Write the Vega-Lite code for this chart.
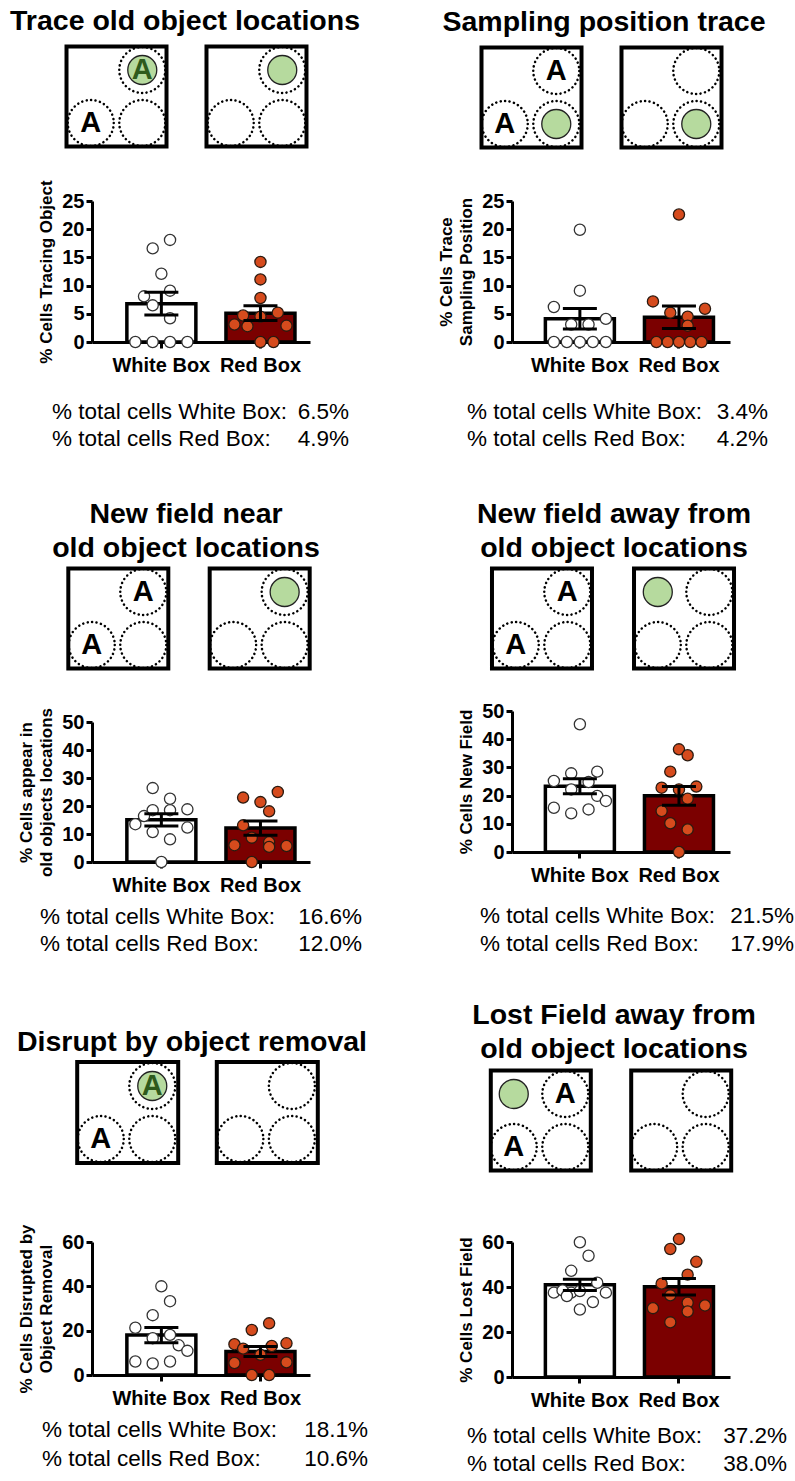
{
"$schema": "https://vega.github.io/schema/vega-lite/v6.json",
"background": "white",
"padding": {"left": 9, "top": 7, "right": 0, "bottom": 0},
"datasets": {
"points": [
{"p":1,"group":"White Box","value":16.6,"slot":-1},{"p":1,"group":"White Box","value":18.1,"slot":1},{"p":1,"group":"White Box","value":12.1,"slot":0},{"p":1,"group":"White Box","value":9.1,"slot":1},{"p":1,"group":"White Box","value":8.1,"slot":-2},{"p":1,"group":"White Box","value":6.5,"slot":-1},{"p":1,"group":"White Box","value":4.2,"slot":1},{"p":1,"group":"White Box","value":0,"slot":-3},{"p":1,"group":"White Box","value":0,"slot":-1},{"p":1,"group":"White Box","value":0,"slot":1},{"p":1,"group":"White Box","value":0,"slot":3},
{"p":1,"group":"Red Box","value":14.2,"slot":0},{"p":1,"group":"Red Box","value":11.1,"slot":0},{"p":1,"group":"Red Box","value":7.8,"slot":0},{"p":1,"group":"Red Box","value":4.7,"slot":-2},{"p":1,"group":"Red Box","value":4.5,"slot":0},{"p":1,"group":"Red Box","value":5.2,"slot":2},{"p":1,"group":"Red Box","value":3.1,"slot":-3},{"p":1,"group":"Red Box","value":2.8,"slot":-1.5},{"p":1,"group":"Red Box","value":2.9,"slot":3},{"p":1,"group":"Red Box","value":0,"slot":0},{"p":1,"group":"Red Box","value":0,"slot":1.5},
{"p":2,"group":"White Box","value":19.9,"slot":0},{"p":2,"group":"White Box","value":9.1,"slot":0},{"p":2,"group":"White Box","value":6.2,"slot":-3},{"p":2,"group":"White Box","value":4.1,"slot":3},{"p":2,"group":"White Box","value":3.1,"slot":-1},{"p":2,"group":"White Box","value":3.1,"slot":1},{"p":2,"group":"White Box","value":0,"slot":-3},{"p":2,"group":"White Box","value":0,"slot":-1.5},{"p":2,"group":"White Box","value":0,"slot":0},{"p":2,"group":"White Box","value":0,"slot":1.5},{"p":2,"group":"White Box","value":0,"slot":3},
{"p":2,"group":"Red Box","value":22.6,"slot":0},{"p":2,"group":"Red Box","value":7.2,"slot":-3},{"p":2,"group":"Red Box","value":5.9,"slot":3},{"p":2,"group":"Red Box","value":5.2,"slot":-1},{"p":2,"group":"Red Box","value":4.5,"slot":1},{"p":2,"group":"Red Box","value":2.9,"slot":1},{"p":2,"group":"Red Box","value":0,"slot":-2.6},{"p":2,"group":"Red Box","value":0,"slot":-1.3},{"p":2,"group":"Red Box","value":0,"slot":0},{"p":2,"group":"Red Box","value":0,"slot":1.3},{"p":2,"group":"Red Box","value":0,"slot":2.6},
{"p":3,"group":"White Box","value":26.4,"slot":-1},{"p":3,"group":"White Box","value":22.6,"slot":1},{"p":3,"group":"White Box","value":18.8,"slot":3},{"p":3,"group":"White Box","value":18.5,"slot":-1},{"p":3,"group":"White Box","value":18.5,"slot":1},{"p":3,"group":"White Box","value":16.4,"slot":-2},{"p":3,"group":"White Box","value":13.5,"slot":-3},{"p":3,"group":"White Box","value":12.3,"slot":3},{"p":3,"group":"White Box","value":10.7,"slot":-1},{"p":3,"group":"White Box","value":8.1,"slot":1},{"p":3,"group":"White Box","value":0,"slot":0},
{"p":3,"group":"Red Box","value":25.0,"slot":2},{"p":3,"group":"Red Box","value":23.0,"slot":-2},{"p":3,"group":"Red Box","value":21.4,"slot":0},{"p":3,"group":"Red Box","value":18.1,"slot":1},{"p":3,"group":"Red Box","value":13.1,"slot":-2},{"p":3,"group":"Red Box","value":8.7,"slot":-1},{"p":3,"group":"Red Box","value":7.1,"slot":1},{"p":3,"group":"Red Box","value":6.0,"slot":-3},{"p":3,"group":"Red Box","value":5.4,"slot":1},{"p":3,"group":"Red Box","value":5.7,"slot":3},{"p":3,"group":"Red Box","value":0,"slot":-1},
{"p":4,"group":"White Box","value":45.3,"slot":0},{"p":4,"group":"White Box","value":27.9,"slot":-1},{"p":4,"group":"White Box","value":28.5,"slot":2},{"p":4,"group":"White Box","value":25.2,"slot":-3},{"p":4,"group":"White Box","value":24.8,"slot":1},{"p":4,"group":"White Box","value":22.2,"slot":-1},{"p":4,"group":"White Box","value":19.9,"slot":2},{"p":4,"group":"White Box","value":18.1,"slot":3},{"p":4,"group":"White Box","value":15.7,"slot":-3},{"p":4,"group":"White Box","value":15.1,"slot":1},{"p":4,"group":"White Box","value":13.7,"slot":-1},
{"p":4,"group":"Red Box","value":36.4,"slot":0},{"p":4,"group":"Red Box","value":34.3,"slot":1},{"p":4,"group":"Red Box","value":28.5,"slot":-1},{"p":4,"group":"Red Box","value":22.8,"slot":-2},{"p":4,"group":"Red Box","value":22.2,"slot":0},{"p":4,"group":"Red Box","value":23.2,"slot":2},{"p":4,"group":"Red Box","value":18.9,"slot":1},{"p":4,"group":"Red Box","value":14.5,"slot":-2},{"p":4,"group":"Red Box","value":10.2,"slot":-1},{"p":4,"group":"Red Box","value":8.0,"slot":1},{"p":4,"group":"Red Box","value":0,"slot":0},
{"p":5,"group":"White Box","value":40.0,"slot":0},{"p":5,"group":"White Box","value":33.3,"slot":1},{"p":5,"group":"White Box","value":27.0,"slot":-1},{"p":5,"group":"White Box","value":21.3,"slot":-3},{"p":5,"group":"White Box","value":16.6,"slot":-1},{"p":5,"group":"White Box","value":18.1,"slot":1},{"p":5,"group":"White Box","value":13.4,"slot":2},{"p":5,"group":"White Box","value":10.9,"slot":3},{"p":5,"group":"White Box","value":6.1,"slot":-3},{"p":5,"group":"White Box","value":5.2,"slot":-1},{"p":5,"group":"White Box","value":6.1,"slot":1},
{"p":5,"group":"Red Box","value":23.3,"slot":1},{"p":5,"group":"Red Box","value":20.3,"slot":-1},{"p":5,"group":"Red Box","value":13.9,"slot":-3},{"p":5,"group":"Red Box","value":11.9,"slot":-2},{"p":5,"group":"Red Box","value":13.1,"slot":1.3},{"p":5,"group":"Red Box","value":14.3,"slot":3},{"p":5,"group":"Red Box","value":9.1,"slot":0},{"p":5,"group":"Red Box","value":5.4,"slot":-3},{"p":5,"group":"Red Box","value":5.7,"slot":3},{"p":5,"group":"Red Box","value":0,"slot":-1},{"p":5,"group":"Red Box","value":0,"slot":1},
{"p":6,"group":"White Box","value":59.9,"slot":0},{"p":6,"group":"White Box","value":53.9,"slot":1},{"p":6,"group":"White Box","value":47.2,"slot":-1},{"p":6,"group":"White Box","value":41.9,"slot":2},{"p":6,"group":"White Box","value":37.5,"slot":-3},{"p":6,"group":"White Box","value":37.5,"slot":-1},{"p":6,"group":"White Box","value":38.2,"slot":0},{"p":6,"group":"White Box","value":38.5,"slot":-2},{"p":6,"group":"White Box","value":37.5,"slot":3},{"p":6,"group":"White Box","value":36.0,"slot":-1.5},{"p":6,"group":"White Box","value":33.3,"slot":1.5},{"p":6,"group":"White Box","value":30.0,"slot":0},
{"p":6,"group":"Red Box","value":61.3,"slot":0},{"p":6,"group":"Red Box","value":56.9,"slot":-1},{"p":6,"group":"Red Box","value":51.2,"slot":2},{"p":6,"group":"Red Box","value":45.5,"slot":1},{"p":6,"group":"Red Box","value":41.5,"slot":-2},{"p":6,"group":"Red Box","value":36.3,"slot":-1},{"p":6,"group":"Red Box","value":33.0,"slot":1},{"p":6,"group":"Red Box","value":31.8,"slot":3},{"p":6,"group":"Red Box","value":30.6,"slot":-3},{"p":6,"group":"Red Box","value":29.1,"slot":1},{"p":6,"group":"Red Box","value":24.3,"slot":-1}
],
"schem": [
{"p":1,"box":"1","kind":"box"},{"p":1,"box":"1","kind":"zone","col":"R","row":"T"},{"p":1,"box":"1","kind":"zone","col":"L","row":"B"},{"p":1,"box":"1","kind":"zone","col":"R","row":"B"},{"p":1,"box":"1","kind":"green","col":"R","row":"T"},{"p":1,"box":"1","kind":"letter_on_green","col":"R","row":"T","label":"A"},{"p":1,"box":"1","kind":"letter","col":"L","row":"B","label":"A"},
{"p":1,"box":"2","kind":"box"},{"p":1,"box":"2","kind":"zone","col":"R","row":"T"},{"p":1,"box":"2","kind":"zone","col":"L","row":"B"},{"p":1,"box":"2","kind":"zone","col":"R","row":"B"},{"p":1,"box":"2","kind":"green","col":"R","row":"T"},
{"p":2,"box":"1","kind":"box"},{"p":2,"box":"1","kind":"zone","col":"R","row":"T"},{"p":2,"box":"1","kind":"zone","col":"L","row":"B"},{"p":2,"box":"1","kind":"zone","col":"R","row":"B"},{"p":2,"box":"1","kind":"letter","col":"R","row":"T","label":"A"},{"p":2,"box":"1","kind":"letter","col":"L","row":"B","label":"A"},{"p":2,"box":"1","kind":"green","col":"R","row":"B"},
{"p":2,"box":"2","kind":"box"},{"p":2,"box":"2","kind":"zone","col":"R","row":"T"},{"p":2,"box":"2","kind":"zone","col":"L","row":"B"},{"p":2,"box":"2","kind":"zone","col":"R","row":"B"},{"p":2,"box":"2","kind":"green","col":"R","row":"B"},
{"p":3,"box":"1","kind":"box"},{"p":3,"box":"1","kind":"zone","col":"R","row":"T"},{"p":3,"box":"1","kind":"zone","col":"L","row":"B"},{"p":3,"box":"1","kind":"zone","col":"R","row":"B"},{"p":3,"box":"1","kind":"letter","col":"R","row":"T","label":"A"},{"p":3,"box":"1","kind":"letter","col":"L","row":"B","label":"A"},
{"p":3,"box":"2","kind":"box"},{"p":3,"box":"2","kind":"zone","col":"R","row":"T"},{"p":3,"box":"2","kind":"zone","col":"L","row":"B"},{"p":3,"box":"2","kind":"zone","col":"R","row":"B"},{"p":3,"box":"2","kind":"green","col":"R","row":"T"},
{"p":4,"box":"1","kind":"box"},{"p":4,"box":"1","kind":"zone","col":"R","row":"T"},{"p":4,"box":"1","kind":"zone","col":"L","row":"B"},{"p":4,"box":"1","kind":"zone","col":"R","row":"B"},{"p":4,"box":"1","kind":"letter","col":"R","row":"T","label":"A"},{"p":4,"box":"1","kind":"letter","col":"L","row":"B","label":"A"},
{"p":4,"box":"2","kind":"box"},{"p":4,"box":"2","kind":"zone","col":"R","row":"T"},{"p":4,"box":"2","kind":"zone","col":"L","row":"B"},{"p":4,"box":"2","kind":"zone","col":"R","row":"B"},{"p":4,"box":"2","kind":"green","col":"L","row":"T"},
{"p":5,"box":"1","kind":"box"},{"p":5,"box":"1","kind":"zone","col":"R","row":"T"},{"p":5,"box":"1","kind":"zone","col":"L","row":"B"},{"p":5,"box":"1","kind":"zone","col":"R","row":"B"},{"p":5,"box":"1","kind":"green","col":"R","row":"T"},{"p":5,"box":"1","kind":"letter_on_green","col":"R","row":"T","label":"A"},{"p":5,"box":"1","kind":"letter","col":"L","row":"B","label":"A"},
{"p":5,"box":"2","kind":"box"},{"p":5,"box":"2","kind":"zone","col":"R","row":"T"},{"p":5,"box":"2","kind":"zone","col":"L","row":"B"},{"p":5,"box":"2","kind":"zone","col":"R","row":"B"},
{"p":6,"box":"1","kind":"box"},{"p":6,"box":"1","kind":"zone","col":"R","row":"T"},{"p":6,"box":"1","kind":"zone","col":"L","row":"B"},{"p":6,"box":"1","kind":"zone","col":"R","row":"B"},{"p":6,"box":"1","kind":"green","col":"L","row":"T"},{"p":6,"box":"1","kind":"letter","col":"R","row":"T","label":"A"},{"p":6,"box":"1","kind":"letter","col":"L","row":"B","label":"A"},
{"p":6,"box":"2","kind":"box"},{"p":6,"box":"2","kind":"zone","col":"R","row":"T"},{"p":6,"box":"2","kind":"zone","col":"L","row":"B"},{"p":6,"box":"2","kind":"zone","col":"R","row":"B"}
],
"texts": [
{"p":1,"line":1,"label":"% total cells White Box:","pct":"6.5%"},{"p":1,"line":2,"label":"% total cells Red Box:","pct":"4.9%"},
{"p":2,"line":1,"label":"% total cells White Box:","pct":"3.4%"},{"p":2,"line":2,"label":"% total cells Red Box:","pct":"4.2%"},
{"p":3,"line":1,"label":"% total cells White Box:","pct":"16.6%"},{"p":3,"line":2,"label":"% total cells Red Box:","pct":"12.0%"},
{"p":4,"line":1,"label":"% total cells White Box:","pct":"21.5%"},{"p":4,"line":2,"label":"% total cells Red Box:","pct":"17.9%"},
{"p":5,"line":1,"label":"% total cells White Box:","pct":"18.1%"},{"p":5,"line":2,"label":"% total cells Red Box:","pct":"10.6%"},
{"p":6,"line":1,"label":"% total cells White Box:","pct":"37.2%"},{"p":6,"line":2,"label":"% total cells Red Box:","pct":"38.0%"}
]
},
"spacing": 69,
"hconcat": [
{"bounds": "flush", "spacing": 0, "vconcat": [
  {"width": 218, "height": 157,
   "title": {"text": "Trace old object locations", "offset": -26, "dx": -16, "baseline": "bottom", "lineHeight": 34},
   "data": {"name": "schem"}, "transform": [{"filter": "datum.p == 1"}],
   "encoding": {"x": {"field": "box", "type": "nominal", "scale": {"type": "band", "domain": ["1","2"], "range": [-27, 216], "paddingInner": 0.264, "paddingOuter": 0}, "axis": null}},
   "layer": [
    {"transform": [{"filter": "datum.kind == 'box'"}], "mark": {"type": "point", "shape": "square", "size": 10000, "filled": true, "fill": "white", "stroke": "black", "strokeWidth": 4, "opacity": 1}, "encoding": {"y": {"datum": "M", "type": "nominal", "scale": {"type": "point", "domain": ["T","M","B"], "range": [26, 79], "padding": 0}, "axis": null}}},
    {"transform": [{"filter": "datum.kind == 'zone'"}], "mark": {"type": "point", "shape": "circle", "size": 2116, "filled": false, "stroke": "black", "strokeWidth": 2.5, "strokeDash": [0.1, 4.4], "strokeCap": "round", "opacity": 1},
     "encoding": {"xOffset": {"field": "col", "type": "nominal", "scale": {"type": "point", "domain": ["L","R"], "padding": 0.5}}, "y": {"field": "row", "type": "nominal", "axis": null}}},
    {"transform": [{"filter": "datum.kind == 'green'"}], "mark": {"type": "point", "shape": "circle", "size": 841, "filled": true, "fill": "#B6DA9E", "stroke": "#222222", "strokeWidth": 1.3, "opacity": 1},
     "encoding": {"xOffset": {"field": "col", "type": "nominal"}, "y": {"field": "row", "type": "nominal", "axis": null}}},
    {"transform": [{"filter": "datum.kind == 'letter' || datum.kind == 'letter_on_green'"}], "mark": {"type": "text", "fontSize": 29, "fontWeight": "bold", "baseline": "middle", "align": "center"},
     "encoding": {"xOffset": {"field": "col", "type": "nominal"}, "y": {"field": "row", "type": "nominal", "axis": null}, "text": {"field": "label"}, "color": {"condition": {"test": "datum.kind == 'letter_on_green'", "value": "#2E5A1C"}, "value": "black"}}}
   ]},
   {"width": 218, "height": 141,
    "data": {"name": "points"}, "transform": [{"filter": "datum.p == 1"}],
    "resolve": {"scale": {"xOffset": "independent"}},
    "encoding": {"x": {"field": "group", "type": "nominal", "sort": ["White Box","Red Box"], "scale": {"type": "band", "domain": ["White Box","Red Box"], "paddingInner": 0.3, "paddingOuter": 0.25, "align": 0.7}, "axis": {"title": null, "labelAngle": 0, "labelPadding": 7, "tickSize": 6}}},
    "layer": [
     {"mark": {"type": "bar", "stroke": "black", "strokeWidth": 3.5, "width": 69}, "encoding": {"y": {"aggregate": "mean", "field": "value", "type": "quantitative", "title": "% Cells Tracing Object", "scale": {"domain": [0, 25], "nice": false}, "axis": {"values": [0,5,10,15,20,25], "titlePadding": 6, "tickSize": 6}}, "fill": {"condition": {"test": "datum.group === 'Red Box'", "value": "#7B0000"}, "value": "white"}}},
     {"mark": {"type": "point", "filled": true, "size": 125, "opacity": 1, "strokeWidth": 1.3}, "encoding": {"y": {"field": "value", "type": "quantitative", "title": "% Cells Tracing Object", "scale": {"domain": [0, 25], "nice": false}, "axis": {"values": [0,5,10,15,20,25], "titlePadding": 6, "tickSize": 6}}, "xOffset": {"field": "slot", "type": "quantitative", "scale": {"domain": [-4, 4]}}, "fill": {"condition": {"test": "datum.group === 'Red Box'", "value": "#D64B1D"}, "value": "white"}, "stroke": {"condition": {"test": "datum.group === 'Red Box'", "value": "#2A1A10"}, "value": "#333333"}}},
     {"mark": {"type": "errorbar", "extent": "stderr", "ticks": {"size": 34, "color": "black", "opacity": 1}, "rule": {"color": "black", "opacity": 1}, "thickness": 3, "color": "black"}, "encoding": {"y": {"field": "value", "type": "quantitative", "title": "% Cells Tracing Object", "scale": {"domain": [0, 25], "nice": false}, "axis": {"values": [0,5,10,15,20,25], "titlePadding": 6, "tickSize": 6}}}}
    ]},
   {"width": 218, "height": 224,
    "data": {"name": "texts"}, "transform": [{"filter": "datum.p == 1"}],
    "encoding": {"y": {"field": "line", "type": "ordinal", "scale": {"type": "point", "domain": [1,2], "range": [70, 97], "padding": 0}, "axis": null}},
    "layer": [
     {"mark": {"type": "text", "align": "left", "baseline": "middle", "fontSize": 22.5, "color": "black"}, "encoding": {"x": {"datum": "start", "type": "nominal", "scale": {"type": "point", "domain": ["start","end"], "range": [-40, 257], "padding": 0}, "axis": null}, "text": {"field": "label"}}},
     {"mark": {"type": "text", "align": "right", "baseline": "middle", "fontSize": 22.5, "color": "black"}, "encoding": {"x": {"datum": "end", "type": "nominal", "axis": null}, "text": {"field": "pct"}}}
    ]},
  {"width": 218, "height": 156,
   "title": {"text": ["New field near", "old object locations"], "offset": -31, "dx": -15, "baseline": "bottom", "lineHeight": 34},
   "data": {"name": "schem"}, "transform": [{"filter": "datum.p == 3"}],
   "encoding": {"x": {"field": "box", "type": "nominal", "scale": {"type": "band", "domain": ["1","2"], "range": [-26, 220], "paddingInner": 0.26, "paddingOuter": 0}, "axis": null}},
   "layer": [
    {"transform": [{"filter": "datum.kind == 'box'"}], "mark": {"type": "point", "shape": "square", "size": 10000, "filled": true, "fill": "white", "stroke": "black", "strokeWidth": 4, "opacity": 1}, "encoding": {"y": {"datum": "M", "type": "nominal", "scale": {"type": "point", "domain": ["T","M","B"], "range": [26, 79], "padding": 0}, "axis": null}}},
    {"transform": [{"filter": "datum.kind == 'zone'"}], "mark": {"type": "point", "shape": "circle", "size": 2116, "filled": false, "stroke": "black", "strokeWidth": 2.5, "strokeDash": [0.1, 4.4], "strokeCap": "round", "opacity": 1},
     "encoding": {"xOffset": {"field": "col", "type": "nominal", "scale": {"type": "point", "domain": ["L","R"], "padding": 0.5}}, "y": {"field": "row", "type": "nominal", "axis": null}}},
    {"transform": [{"filter": "datum.kind == 'green'"}], "mark": {"type": "point", "shape": "circle", "size": 841, "filled": true, "fill": "#B6DA9E", "stroke": "#222222", "strokeWidth": 1.3, "opacity": 1},
     "encoding": {"xOffset": {"field": "col", "type": "nominal"}, "y": {"field": "row", "type": "nominal", "axis": null}}},
    {"transform": [{"filter": "datum.kind == 'letter' || datum.kind == 'letter_on_green'"}], "mark": {"type": "text", "fontSize": 29, "fontWeight": "bold", "baseline": "middle", "align": "center"},
     "encoding": {"xOffset": {"field": "col", "type": "nominal"}, "y": {"field": "row", "type": "nominal", "axis": null}, "text": {"field": "label"}, "color": {"condition": {"test": "datum.kind == 'letter_on_green'", "value": "#2E5A1C"}, "value": "black"}}}
   ]},
   {"width": 218, "height": 140,
    "data": {"name": "points"}, "transform": [{"filter": "datum.p == 3"}],
    "resolve": {"scale": {"xOffset": "independent"}},
    "encoding": {"x": {"field": "group", "type": "nominal", "sort": ["White Box","Red Box"], "scale": {"type": "band", "domain": ["White Box","Red Box"], "paddingInner": 0.3, "paddingOuter": 0.25, "align": 0.7}, "axis": {"title": null, "labelAngle": 0, "labelPadding": 7, "tickSize": 6}}},
    "layer": [
     {"mark": {"type": "bar", "stroke": "black", "strokeWidth": 3.5, "width": 69}, "encoding": {"y": {"aggregate": "mean", "field": "value", "type": "quantitative", "title": ["% Cells appear in", "old objects locations"], "scale": {"domain": [0, 50], "nice": false}, "axis": {"values": [0,10,20,30,40,50], "titlePadding": 6, "tickSize": 6, "titleLineHeight": 20}}, "fill": {"condition": {"test": "datum.group === 'Red Box'", "value": "#7B0000"}, "value": "white"}}},
     {"mark": {"type": "point", "filled": true, "size": 125, "opacity": 1, "strokeWidth": 1.3}, "encoding": {"y": {"field": "value", "type": "quantitative", "title": ["% Cells appear in", "old objects locations"], "scale": {"domain": [0, 50], "nice": false}, "axis": {"values": [0,10,20,30,40,50], "titlePadding": 6, "tickSize": 6, "titleLineHeight": 20}}, "xOffset": {"field": "slot", "type": "quantitative", "scale": {"domain": [-4, 4]}}, "fill": {"condition": {"test": "datum.group === 'Red Box'", "value": "#D64B1D"}, "value": "white"}, "stroke": {"condition": {"test": "datum.group === 'Red Box'", "value": "#2A1A10"}, "value": "#333333"}}},
     {"mark": {"type": "errorbar", "extent": "stderr", "ticks": {"size": 34, "color": "black", "opacity": 1}, "rule": {"color": "black", "opacity": 1}, "thickness": 3, "color": "black"}, "encoding": {"y": {"field": "value", "type": "quantitative", "title": ["% Cells appear in", "old objects locations"], "scale": {"domain": [0, 50], "nice": false}, "axis": {"values": [0,10,20,30,40,50], "titlePadding": 6, "tickSize": 6, "titleLineHeight": 20}}}}
    ]},
   {"width": 218, "height": 197,
    "data": {"name": "texts"}, "transform": [{"filter": "datum.p == 3"}],
    "encoding": {"y": {"field": "line", "type": "ordinal", "scale": {"type": "point", "domain": [1,2], "range": [55, 82], "padding": 0}, "axis": null}},
    "layer": [
     {"mark": {"type": "text", "align": "left", "baseline": "middle", "fontSize": 22.5, "color": "black"}, "encoding": {"x": {"datum": "start", "type": "nominal", "scale": {"type": "point", "domain": ["start","end"], "range": [-52, 270], "padding": 0}, "axis": null}, "text": {"field": "label"}}},
     {"mark": {"type": "text", "align": "right", "baseline": "middle", "fontSize": 22.5, "color": "black"}, "encoding": {"x": {"datum": "end", "type": "nominal", "axis": null}, "text": {"field": "pct"}}}
    ]},
  {"width": 218, "height": 183,
   "title": {"text": "Disrupt by object removal", "offset": -31, "dx": -9, "baseline": "bottom", "lineHeight": 34},
   "data": {"name": "schem"}, "transform": [{"filter": "datum.p == 5"}],
   "encoding": {"x": {"field": "box", "type": "nominal", "scale": {"type": "band", "domain": ["1","2"], "range": [-17, 228], "paddingInner": 0.245, "paddingOuter": 0}, "axis": null}},
   "layer": [
    {"transform": [{"filter": "datum.kind == 'box'"}], "mark": {"type": "point", "shape": "square", "size": 10200, "filled": true, "fill": "white", "stroke": "black", "strokeWidth": 4, "opacity": 1}, "encoding": {"y": {"datum": "M", "type": "nominal", "scale": {"type": "point", "domain": ["T","M","B"], "range": [27, 80], "padding": 0}, "axis": null}}},
    {"transform": [{"filter": "datum.kind == 'zone'"}], "mark": {"type": "point", "shape": "circle", "size": 2116, "filled": false, "stroke": "black", "strokeWidth": 2.5, "strokeDash": [0.1, 4.4], "strokeCap": "round", "opacity": 1},
     "encoding": {"xOffset": {"field": "col", "type": "nominal", "scale": {"type": "point", "domain": ["L","R"], "padding": 0.5}}, "y": {"field": "row", "type": "nominal", "axis": null}}},
    {"transform": [{"filter": "datum.kind == 'green'"}], "mark": {"type": "point", "shape": "circle", "size": 841, "filled": true, "fill": "#B6DA9E", "stroke": "#222222", "strokeWidth": 1.3, "opacity": 1},
     "encoding": {"xOffset": {"field": "col", "type": "nominal"}, "y": {"field": "row", "type": "nominal", "axis": null}}},
    {"transform": [{"filter": "datum.kind == 'letter' || datum.kind == 'letter_on_green'"}], "mark": {"type": "text", "fontSize": 29, "fontWeight": "bold", "baseline": "middle", "align": "center"},
     "encoding": {"xOffset": {"field": "col", "type": "nominal"}, "y": {"field": "row", "type": "nominal", "axis": null}, "text": {"field": "label"}, "color": {"condition": {"test": "datum.kind == 'letter_on_green'", "value": "#2E5A1C"}, "value": "black"}}}
   ]},
   {"width": 218, "height": 133,
    "data": {"name": "points"}, "transform": [{"filter": "datum.p == 5"}],
    "resolve": {"scale": {"xOffset": "independent"}},
    "encoding": {"x": {"field": "group", "type": "nominal", "sort": ["White Box","Red Box"], "scale": {"type": "band", "domain": ["White Box","Red Box"], "paddingInner": 0.3, "paddingOuter": 0.25, "align": 0.7}, "axis": {"title": null, "labelAngle": 0, "labelPadding": 7, "tickSize": 6}}},
    "layer": [
     {"mark": {"type": "bar", "stroke": "black", "strokeWidth": 3.5, "width": 69}, "encoding": {"y": {"aggregate": "mean", "field": "value", "type": "quantitative", "title": ["% Cells Disrupted by", "Object Removal"], "scale": {"domain": [0, 60], "nice": false}, "axis": {"values": [0,20,40,60], "titlePadding": 6, "tickSize": 6, "titleLineHeight": 20}}, "fill": {"condition": {"test": "datum.group === 'Red Box'", "value": "#7B0000"}, "value": "white"}}},
     {"mark": {"type": "point", "filled": true, "size": 125, "opacity": 1, "strokeWidth": 1.3}, "encoding": {"y": {"field": "value", "type": "quantitative", "title": ["% Cells Disrupted by", "Object Removal"], "scale": {"domain": [0, 60], "nice": false}, "axis": {"values": [0,20,40,60], "titlePadding": 6, "tickSize": 6, "titleLineHeight": 20}}, "xOffset": {"field": "slot", "type": "quantitative", "scale": {"domain": [-4, 4]}}, "fill": {"condition": {"test": "datum.group === 'Red Box'", "value": "#D64B1D"}, "value": "white"}, "stroke": {"condition": {"test": "datum.group === 'Red Box'", "value": "#2A1A10"}, "value": "#333333"}}},
     {"mark": {"type": "errorbar", "extent": "stderr", "ticks": {"size": 34, "color": "black", "opacity": 1}, "rule": {"color": "black", "opacity": 1}, "thickness": 3, "color": "black"}, "encoding": {"y": {"field": "value", "type": "quantitative", "title": ["% Cells Disrupted by", "Object Removal"], "scale": {"domain": [0, 60], "nice": false}, "axis": {"values": [0,20,40,60], "titlePadding": 6, "tickSize": 6, "titleLineHeight": 20}}}}
    ]},
   {"width": 218, "height": 90,
    "data": {"name": "texts"}, "transform": [{"filter": "datum.p == 5"}],
    "encoding": {"y": {"field": "line", "type": "ordinal", "scale": {"type": "point", "domain": [1,2], "range": [55, 84], "padding": 0}, "axis": null}},
    "layer": [
     {"mark": {"type": "text", "align": "left", "baseline": "middle", "fontSize": 22.5, "color": "black"}, "encoding": {"x": {"datum": "start", "type": "nominal", "scale": {"type": "point", "domain": ["start","end"], "range": [-50, 276], "padding": 0}, "axis": null}, "text": {"field": "label"}}},
     {"mark": {"type": "text", "align": "right", "baseline": "middle", "fontSize": 22.5, "color": "black"}, "encoding": {"x": {"datum": "end", "type": "nominal", "axis": null}, "text": {"field": "pct"}}}
    ]}
]},
{"bounds": "flush", "spacing": 0, "vconcat": [
  {"width": 218, "height": 157,
   "title": {"text": "Sampling position trace", "offset": -26, "dx": -17, "baseline": "bottom", "lineHeight": 34},
   "data": {"name": "schem"}, "transform": [{"filter": "datum.p == 2"}],
   "encoding": {"x": {"field": "box", "type": "nominal", "scale": {"type": "band", "domain": ["1","2"], "range": [-33, 212], "paddingInner": 0.25, "paddingOuter": 0}, "axis": null}},
   "layer": [
    {"transform": [{"filter": "datum.kind == 'box'"}], "mark": {"type": "point", "shape": "square", "size": 10000, "filled": true, "fill": "white", "stroke": "black", "strokeWidth": 4, "opacity": 1}, "encoding": {"y": {"datum": "M", "type": "nominal", "scale": {"type": "point", "domain": ["T","M","B"], "range": [27, 80], "padding": 0}, "axis": null}}},
    {"transform": [{"filter": "datum.kind == 'zone'"}], "mark": {"type": "point", "shape": "circle", "size": 2116, "filled": false, "stroke": "black", "strokeWidth": 2.5, "strokeDash": [0.1, 4.4], "strokeCap": "round", "opacity": 1},
     "encoding": {"xOffset": {"field": "col", "type": "nominal", "scale": {"type": "point", "domain": ["L","R"], "padding": 0.5}}, "y": {"field": "row", "type": "nominal", "axis": null}}},
    {"transform": [{"filter": "datum.kind == 'green'"}], "mark": {"type": "point", "shape": "circle", "size": 841, "filled": true, "fill": "#B6DA9E", "stroke": "#222222", "strokeWidth": 1.3, "opacity": 1},
     "encoding": {"xOffset": {"field": "col", "type": "nominal"}, "y": {"field": "row", "type": "nominal", "axis": null}}},
    {"transform": [{"filter": "datum.kind == 'letter' || datum.kind == 'letter_on_green'"}], "mark": {"type": "text", "fontSize": 29, "fontWeight": "bold", "baseline": "middle", "align": "center"},
     "encoding": {"xOffset": {"field": "col", "type": "nominal"}, "y": {"field": "row", "type": "nominal", "axis": null}, "text": {"field": "label"}, "color": {"condition": {"test": "datum.kind == 'letter_on_green'", "value": "#2E5A1C"}, "value": "black"}}}
   ]},
   {"width": 218, "height": 141,
    "data": {"name": "points"}, "transform": [{"filter": "datum.p == 2"}],
    "resolve": {"scale": {"xOffset": "independent"}},
    "encoding": {"x": {"field": "group", "type": "nominal", "sort": ["White Box","Red Box"], "scale": {"type": "band", "domain": ["White Box","Red Box"], "paddingInner": 0.3, "paddingOuter": 0.25, "align": 0.67}, "axis": {"title": null, "labelAngle": 0, "labelPadding": 7, "tickSize": 6}}},
    "layer": [
     {"mark": {"type": "bar", "stroke": "black", "strokeWidth": 3.5, "width": 69}, "encoding": {"y": {"aggregate": "mean", "field": "value", "type": "quantitative", "title": ["% Cells Trace", "Sampling Position"], "scale": {"domain": [0, 25], "nice": false}, "axis": {"values": [0,5,10,15,20,25], "titlePadding": 6, "tickSize": 6, "titleLineHeight": 20}}, "fill": {"condition": {"test": "datum.group === 'Red Box'", "value": "#7B0000"}, "value": "white"}}},
     {"mark": {"type": "point", "filled": true, "size": 125, "opacity": 1, "strokeWidth": 1.3}, "encoding": {"y": {"field": "value", "type": "quantitative", "title": ["% Cells Trace", "Sampling Position"], "scale": {"domain": [0, 25], "nice": false}, "axis": {"values": [0,5,10,15,20,25], "titlePadding": 6, "tickSize": 6, "titleLineHeight": 20}}, "xOffset": {"field": "slot", "type": "quantitative", "scale": {"domain": [-4, 4]}}, "fill": {"condition": {"test": "datum.group === 'Red Box'", "value": "#D64B1D"}, "value": "white"}, "stroke": {"condition": {"test": "datum.group === 'Red Box'", "value": "#2A1A10"}, "value": "#333333"}}},
     {"mark": {"type": "errorbar", "extent": "stderr", "ticks": {"size": 34, "color": "black", "opacity": 1}, "rule": {"color": "black", "opacity": 1}, "thickness": 3, "color": "black"}, "encoding": {"y": {"field": "value", "type": "quantitative", "title": ["% Cells Trace", "Sampling Position"], "scale": {"domain": [0, 25], "nice": false}, "axis": {"values": [0,5,10,15,20,25], "titlePadding": 6, "tickSize": 6, "titleLineHeight": 20}}}}
    ]},
   {"width": 218, "height": 224,
    "data": {"name": "texts"}, "transform": [{"filter": "datum.p == 2"}],
    "encoding": {"y": {"field": "line", "type": "ordinal", "scale": {"type": "point", "domain": [1,2], "range": [70, 97], "padding": 0}, "axis": null}},
    "layer": [
     {"mark": {"type": "text", "align": "left", "baseline": "middle", "fontSize": 22.5, "color": "black"}, "encoding": {"x": {"datum": "start", "type": "nominal", "scale": {"type": "point", "domain": ["start","end"], "range": [-45, 256], "padding": 0}, "axis": null}, "text": {"field": "label"}}},
     {"mark": {"type": "text", "align": "right", "baseline": "middle", "fontSize": 22.5, "color": "black"}, "encoding": {"x": {"datum": "end", "type": "nominal", "axis": null}, "text": {"field": "pct"}}}
    ]},
  {"width": 218, "height": 145,
   "title": {"text": ["New field away from", "old object locations"], "offset": -31, "dx": -7, "baseline": "bottom", "lineHeight": 34},
   "data": {"name": "schem"}, "transform": [{"filter": "datum.p == 4"}],
   "encoding": {"x": {"field": "box", "type": "nominal", "scale": {"type": "band", "domain": ["1","2"], "range": [-22, 224], "paddingInner": 0.268, "paddingOuter": 0}, "axis": null}},
   "layer": [
    {"transform": [{"filter": "datum.kind == 'box'"}], "mark": {"type": "point", "shape": "square", "size": 10000, "filled": true, "fill": "white", "stroke": "black", "strokeWidth": 4, "opacity": 1}, "encoding": {"y": {"datum": "M", "type": "nominal", "scale": {"type": "point", "domain": ["T","M","B"], "range": [26, 79], "padding": 0}, "axis": null}}},
    {"transform": [{"filter": "datum.kind == 'zone'"}], "mark": {"type": "point", "shape": "circle", "size": 2116, "filled": false, "stroke": "black", "strokeWidth": 2.5, "strokeDash": [0.1, 4.4], "strokeCap": "round", "opacity": 1},
     "encoding": {"xOffset": {"field": "col", "type": "nominal", "scale": {"type": "point", "domain": ["L","R"], "padding": 0.5}}, "y": {"field": "row", "type": "nominal", "axis": null}}},
    {"transform": [{"filter": "datum.kind == 'green'"}], "mark": {"type": "point", "shape": "circle", "size": 841, "filled": true, "fill": "#B6DA9E", "stroke": "#222222", "strokeWidth": 1.3, "opacity": 1},
     "encoding": {"xOffset": {"field": "col", "type": "nominal"}, "y": {"field": "row", "type": "nominal", "axis": null}}},
    {"transform": [{"filter": "datum.kind == 'letter' || datum.kind == 'letter_on_green'"}], "mark": {"type": "text", "fontSize": 29, "fontWeight": "bold", "baseline": "middle", "align": "center"},
     "encoding": {"xOffset": {"field": "col", "type": "nominal"}, "y": {"field": "row", "type": "nominal", "axis": null}, "text": {"field": "label"}, "color": {"condition": {"test": "datum.kind == 'letter_on_green'", "value": "#2E5A1C"}, "value": "black"}}}
   ]},
   {"width": 218, "height": 141,
    "data": {"name": "points"}, "transform": [{"filter": "datum.p == 4"}],
    "resolve": {"scale": {"xOffset": "independent"}},
    "encoding": {"x": {"field": "group", "type": "nominal", "sort": ["White Box","Red Box"], "scale": {"type": "band", "domain": ["White Box","Red Box"], "paddingInner": 0.3, "paddingOuter": 0.25, "align": 0.67}, "axis": {"title": null, "labelAngle": 0, "labelPadding": 7, "tickSize": 6}}},
    "layer": [
     {"mark": {"type": "bar", "stroke": "black", "strokeWidth": 3.5, "width": 69}, "encoding": {"y": {"aggregate": "mean", "field": "value", "type": "quantitative", "title": "% Cells New Field", "scale": {"domain": [0, 50], "nice": false}, "axis": {"values": [0,10,20,30,40,50], "titlePadding": 6, "tickSize": 6}}, "fill": {"condition": {"test": "datum.group === 'Red Box'", "value": "#7B0000"}, "value": "white"}}},
     {"mark": {"type": "point", "filled": true, "size": 125, "opacity": 1, "strokeWidth": 1.3}, "encoding": {"y": {"field": "value", "type": "quantitative", "title": "% Cells New Field", "scale": {"domain": [0, 50], "nice": false}, "axis": {"values": [0,10,20,30,40,50], "titlePadding": 6, "tickSize": 6}}, "xOffset": {"field": "slot", "type": "quantitative", "scale": {"domain": [-4, 4]}}, "fill": {"condition": {"test": "datum.group === 'Red Box'", "value": "#D64B1D"}, "value": "white"}, "stroke": {"condition": {"test": "datum.group === 'Red Box'", "value": "#2A1A10"}, "value": "#333333"}}},
     {"mark": {"type": "errorbar", "extent": "stderr", "ticks": {"size": 34, "color": "black", "opacity": 1}, "rule": {"color": "black", "opacity": 1}, "thickness": 3, "color": "black"}, "encoding": {"y": {"field": "value", "type": "quantitative", "title": "% Cells New Field", "scale": {"domain": [0, 50], "nice": false}, "axis": {"values": [0,10,20,30,40,50], "titlePadding": 6, "tickSize": 6}}}}
    ]},
   {"width": 218, "height": 215,
    "data": {"name": "texts"}, "transform": [{"filter": "datum.p == 4"}],
    "encoding": {"y": {"field": "line", "type": "ordinal", "scale": {"type": "point", "domain": [1,2], "range": [64, 92], "padding": 0}, "axis": null}},
    "layer": [
     {"mark": {"type": "text", "align": "left", "baseline": "middle", "fontSize": 22.5, "color": "black"}, "encoding": {"x": {"datum": "start", "type": "nominal", "scale": {"type": "point", "domain": ["start","end"], "range": [-32, 282], "padding": 0}, "axis": null}, "text": {"field": "label"}}},
     {"mark": {"type": "text", "align": "right", "baseline": "middle", "fontSize": 22.5, "color": "black"}, "encoding": {"x": {"datum": "end", "type": "nominal", "axis": null}, "text": {"field": "pct"}}}
    ]},
  {"width": 218, "height": 175,
   "title": {"text": ["Lost Field away from", "old object locations"], "offset": -30, "dx": -7, "baseline": "bottom", "lineHeight": 34},
   "data": {"name": "schem"}, "transform": [{"filter": "datum.p == 6"}],
   "encoding": {"x": {"field": "box", "type": "nominal", "scale": {"type": "band", "domain": ["1","2"], "range": [-24, 222], "paddingInner": 0.248, "paddingOuter": 0}, "axis": null}},
   "layer": [
    {"transform": [{"filter": "datum.kind == 'box'"}], "mark": {"type": "point", "shape": "square", "size": 10000, "filled": true, "fill": "white", "stroke": "black", "strokeWidth": 4, "opacity": 1}, "encoding": {"y": {"datum": "M", "type": "nominal", "scale": {"type": "point", "domain": ["T","M","B"], "range": [27, 80], "padding": 0}, "axis": null}}},
    {"transform": [{"filter": "datum.kind == 'zone'"}], "mark": {"type": "point", "shape": "circle", "size": 2116, "filled": false, "stroke": "black", "strokeWidth": 2.5, "strokeDash": [0.1, 4.4], "strokeCap": "round", "opacity": 1},
     "encoding": {"xOffset": {"field": "col", "type": "nominal", "scale": {"type": "point", "domain": ["L","R"], "padding": 0.5}}, "y": {"field": "row", "type": "nominal", "axis": null}}},
    {"transform": [{"filter": "datum.kind == 'green'"}], "mark": {"type": "point", "shape": "circle", "size": 841, "filled": true, "fill": "#B6DA9E", "stroke": "#222222", "strokeWidth": 1.3, "opacity": 1},
     "encoding": {"xOffset": {"field": "col", "type": "nominal"}, "y": {"field": "row", "type": "nominal", "axis": null}}},
    {"transform": [{"filter": "datum.kind == 'letter' || datum.kind == 'letter_on_green'"}], "mark": {"type": "text", "fontSize": 29, "fontWeight": "bold", "baseline": "middle", "align": "center"},
     "encoding": {"xOffset": {"field": "col", "type": "nominal"}, "y": {"field": "row", "type": "nominal", "axis": null}, "text": {"field": "label"}, "color": {"condition": {"test": "datum.kind == 'letter_on_green'", "value": "#2E5A1C"}, "value": "black"}}}
   ]},
   {"width": 218, "height": 135,
    "data": {"name": "points"}, "transform": [{"filter": "datum.p == 6"}],
    "resolve": {"scale": {"xOffset": "independent"}},
    "encoding": {"x": {"field": "group", "type": "nominal", "sort": ["White Box","Red Box"], "scale": {"type": "band", "domain": ["White Box","Red Box"], "paddingInner": 0.3, "paddingOuter": 0.25, "align": 0.67}, "axis": {"title": null, "labelAngle": 0, "labelPadding": 7, "tickSize": 6}}},
    "layer": [
     {"mark": {"type": "bar", "stroke": "black", "strokeWidth": 3.5, "width": 69}, "encoding": {"y": {"aggregate": "mean", "field": "value", "type": "quantitative", "title": "% Cells Lost Field", "scale": {"domain": [0, 60], "nice": false}, "axis": {"values": [0,20,40,60], "titlePadding": 6, "tickSize": 6}}, "fill": {"condition": {"test": "datum.group === 'Red Box'", "value": "#7B0000"}, "value": "white"}}},
     {"mark": {"type": "point", "filled": true, "size": 125, "opacity": 1, "strokeWidth": 1.3}, "encoding": {"y": {"field": "value", "type": "quantitative", "title": "% Cells Lost Field", "scale": {"domain": [0, 60], "nice": false}, "axis": {"values": [0,20,40,60], "titlePadding": 6, "tickSize": 6}}, "xOffset": {"field": "slot", "type": "quantitative", "scale": {"domain": [-4, 4]}}, "fill": {"condition": {"test": "datum.group === 'Red Box'", "value": "#D64B1D"}, "value": "white"}, "stroke": {"condition": {"test": "datum.group === 'Red Box'", "value": "#2A1A10"}, "value": "#333333"}}},
     {"mark": {"type": "errorbar", "extent": "stderr", "ticks": {"size": 34, "color": "black", "opacity": 1}, "rule": {"color": "black", "opacity": 1}, "thickness": 3, "color": "black"}, "encoding": {"y": {"field": "value", "type": "quantitative", "title": "% Cells Lost Field", "scale": {"domain": [0, 60], "nice": false}, "axis": {"values": [0,20,40,60], "titlePadding": 6, "tickSize": 6}}}}
    ]},
   {"width": 218, "height": 90,
    "data": {"name": "texts"}, "transform": [{"filter": "datum.p == 6"}],
    "encoding": {"y": {"field": "line", "type": "ordinal", "scale": {"type": "point", "domain": [1,2], "range": [59, 87], "padding": 0}, "axis": null}},
    "layer": [
     {"mark": {"type": "text", "align": "left", "baseline": "middle", "fontSize": 22.5, "color": "black"}, "encoding": {"x": {"datum": "start", "type": "nominal", "scale": {"type": "point", "domain": ["start","end"], "range": [-45, 275], "padding": 0}, "axis": null}, "text": {"field": "label"}}},
     {"mark": {"type": "text", "align": "right", "baseline": "middle", "fontSize": 22.5, "color": "black"}, "encoding": {"x": {"datum": "end", "type": "nominal", "axis": null}, "text": {"field": "pct"}}}
    ]}
]}
],
"config": {
 "font": "Liberation Sans",
 "view": {"stroke": null},
 "axis": {"domainColor": "black", "domainWidth": 3, "tickColor": "black", "tickWidth": 3, "labelColor": "black", "titleColor": "black", "labelFontWeight": "bold", "titleFontWeight": "bold", "grid": false, "labelFontSize": 20, "titleFontSize": 17, "labelPadding": 2, "labelOverlap": false},
 "title": {"fontSize": 28.5, "fontWeight": "bold", "color": "black", "anchor": "middle"}
}
}
